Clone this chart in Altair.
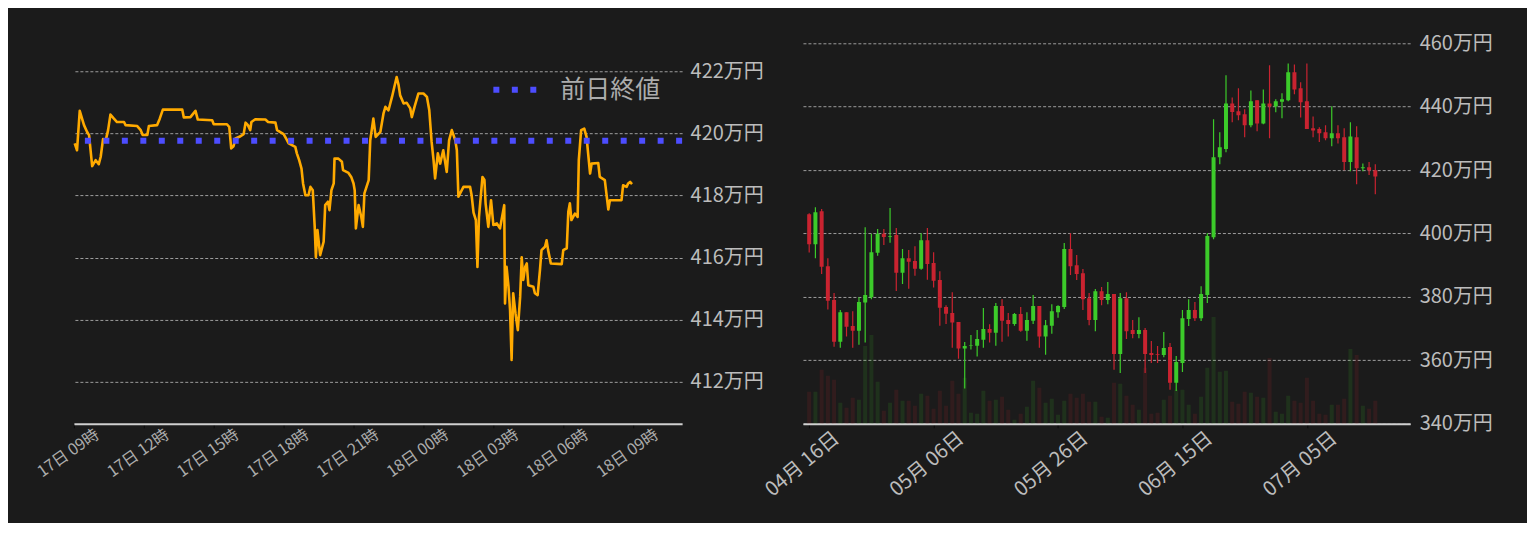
import json
import altair as alt
import pandas as pd

FONT = "Noto Sans CJK JP"
BG = "#1b1b1b"

# ---------------- Left panel: intraday price (minutes after 17日 09:00, 万円) ----------------
intraday_min = [2, 8, 15, 26, 34, 39, 47, 56, 64, 69, 75, 82, 88, 94, 103, 111, 129, 133, 163, 172,
                177, 189, 193, 214, 221, 229, 279, 283, 300, 313, 319, 356, 360, 394, 400, 405, 411, 416,
                429, 437, 442, 448, 454, 457, 467, 493, 500, 519, 523, 540, 549, 553, 570, 574, 580, 586,
                590, 596, 604, 609, 615, 620, 623, 627, 634, 643, 647, 654, 658, 663, 669, 671, 681, 690,
                693, 707, 714, 720, 723, 726, 733, 740, 744, 748, 759, 763, 771, 777, 789, 797, 802, 810,
                819, 825, 831, 836, 840, 849, 857, 866, 870, 877, 887, 900, 909, 915, 921, 926, 930, 937,
                943, 951, 960, 966, 973, 982, 986, 990, 1003, 1020, 1024, 1029, 1035, 1039, 1043, 1052,
                1057, 1060, 1067, 1074, 1080, 1089, 1097, 1101, 1108, 1110, 1114, 1119, 1123, 1127, 1131,
                1137, 1143, 1149, 1153, 1157, 1162, 1166, 1170, 1183, 1187, 1194, 1200, 1204, 1213, 1217,
                1221, 1228, 1256, 1260, 1269, 1273, 1277, 1281, 1290, 1297, 1300, 1306, 1314, 1320, 1324,
                1329, 1333, 1350, 1354, 1367, 1371, 1376, 1380, 1410, 1414, 1423, 1427, 1432, 1437]
intraday_price = [419.68, 419.46, 420.73, 420.27, 420.05, 419.95, 418.95, 419.14, 419.01, 419.25, 419.82,
                  419.78, 420.11, 420.61, 420.48, 420.37, 420.37, 420.27, 420.24, 420.11, 419.95, 419.95,
                  420.24, 420.27, 420.48, 420.77, 420.77, 420.52, 420.53, 420.73, 420.45, 420.43, 420.30,
                  420.30, 420.21, 419.52, 419.59, 419.84, 419.91, 419.98, 420.35, 420.27, 420.11, 420.37,
                  420.46, 420.45, 420.37, 420.35, 420.11, 419.98, 419.78, 419.68, 419.57, 419.36, 419.14,
                  418.87, 418.39, 418.01, 418.01, 418.28, 418.17, 416.99, 416.01, 416.89, 416.08, 416.51,
                  417.69, 417.80, 417.53, 418.17, 418.39, 419.19, 419.19, 419.09, 418.82, 418.73, 418.60,
                  418.39, 418.17, 416.94, 417.69, 417.31, 416.99, 418.07, 418.50, 419.78, 420.48, 419.89,
                  420.05, 420.64, 420.86, 420.75, 421.18, 421.50, 421.82, 421.56, 421.23, 420.97, 420.99,
                  420.81, 420.53, 420.86, 421.29, 421.29, 421.18, 420.75, 419.73, 419.14, 418.55, 419.36,
                  419.03, 419.46, 418.76, 419.78, 420.11, 419.78, 419.46, 417.96, 418.28, 418.28, 418.01,
                  417.45, 417.21, 415.70, 417.31, 418.60, 418.50, 417.75, 416.99, 417.85, 417.05, 417.10,
                  416.94, 417.21, 417.69, 414.52, 415.70, 415.06, 414.31, 412.70, 414.85, 414.20, 413.66,
                  414.74, 416.01, 415.28, 415.70, 415.81, 415.11, 415.06, 414.85, 414.79, 415.60, 416.24,
                  416.35, 416.56, 416.24, 415.81, 415.79, 416.24, 416.30, 417.48, 417.75, 417.21, 417.42,
                  417.31, 419.14, 420.11, 420.16, 419.89, 419.36, 418.71, 419.03, 419.05, 418.60, 418.50,
                  418.07, 417.55, 417.85, 417.85, 418.33, 418.28, 418.39, 418.44, 418.37]
prev_close = 419.77
intraday_tick_min = [0, 180, 360, 540, 720, 900, 1080, 1260, 1440]
intraday_tick_labels = ["17日 09時", "17日 12時", "17日 15時", "17日 18時", "17日 21時",
                        "18日 00時", "18日 03時", "18日 06時", "18日 09時"]
intraday_price_ticks = [412, 414, 416, 418, 420, 422]
legend_label = "前日終値"

# ---------------- Right panel: daily candles (day index from 04月16日, 万円) ----------------
candle_open = [406.1, 396.6, 407.0, 389.7, 379.0, 365.9, 375.2, 370.8, 369.3, 378.2, 379.9, 393.9, 399.9,
               398.9, 399.5, 387.6, 392.2, 391.3, 388.9, 397.9, 390.7, 385.3, 376.8, 374.9, 372.1, 363.7,
               364.6, 364.6, 366.5, 369.9, 368.7, 377.1, 372.7, 371.5, 374.6, 369.3, 372.5, 377.1, 367.5,
               370.9, 375.2, 376.8, 395.1, 390.0, 387.5, 379.6, 372.7, 381.8, 379.0, 380.9, 362.0, 379.6,
               369.6, 368.3, 369.6, 362.3, 362.0, 361.7, 364.2, 352.9, 359.2, 373.0, 375.9, 373.3, 380.6,
               398.8, 424.0, 426.6, 441.0, 438.5, 437.6, 434.1, 442.0, 434.7, 441.0, 440.0, 441.5, 442.0,
               450.8, 445.8, 441.7, 433.2, 432.9, 431.9, 430.0, 431.6, 430.3, 422.5, 430.3, 420.6, 420.9,
               419.9]
candle_high = [406.4, 408.3, 407.7, 392.2, 381.2, 375.9, 375.2, 375.5, 379.9, 402.0, 399.9, 401.4, 401.4,
               408.0, 401.7, 395.1, 394.8, 396.0, 400.1, 401.7, 394.1, 388.1, 377.4, 381.5, 372.1, 365.8,
               368.0, 369.6, 376.5, 371.4, 378.1, 379.3, 374.9, 374.9, 376.8, 375.2, 380.6, 377.1, 372.7,
               377.7, 377.4, 397.0, 400.1, 393.2, 388.8, 381.2, 382.5, 383.1, 384.7, 380.9, 381.2, 381.5,
               372.7, 373.6, 370.2, 366.1, 364.5, 368.9, 365.5, 361.4, 375.9, 379.3, 378.4, 383.4, 400.1,
               436.0, 431.9, 449.9, 442.9, 445.8, 439.2, 445.1, 442.0, 445.4, 453.0, 442.3, 444.2, 453.6,
               453.3, 447.7, 453.6, 436.9, 433.5, 434.1, 440.1, 434.1, 433.2, 435.1, 433.8, 422.1, 422.5,
               421.8]
candle_low = [394.0, 392.2, 387.2, 376.0, 364.3, 364.0, 367.5, 364.0, 364.9, 365.6, 379.3, 393.0, 396.4,
              397.1, 381.9, 384.1, 382.6, 386.7, 388.6, 385.4, 383.0, 370.9, 371.5, 364.0, 360.5, 351.1,
              363.4, 361.2, 364.0, 365.6, 364.6, 365.9, 367.5, 370.9, 369.0, 366.2, 371.5, 364.0, 361.8,
              368.4, 373.4, 376.2, 386.9, 385.3, 375.9, 371.1, 369.2, 377.4, 377.7, 357.0, 356.0, 366.7,
              367.0, 367.0, 356.0, 359.2, 359.2, 361.0, 350.7, 350.3, 356.3, 370.8, 372.4, 372.4, 378.1,
              398.2, 421.8, 425.6, 435.1, 435.7, 430.3, 433.5, 432.2, 434.4, 430.0, 438.2, 436.3, 441.7,
              443.9, 436.6, 432.9, 430.3, 428.8, 429.4, 427.5, 428.4, 419.9, 419.6, 415.5, 419.6, 418.4,
              412.4]
candle_close = [396.6, 406.7, 389.5, 378.8, 365.9, 375.2, 370.6, 369.3, 378.4, 380.6, 394.1, 399.9, 398.9,
                399.1, 387.6, 392.2, 391.1, 388.9, 397.9, 390.4, 385.1, 376.6, 374.7, 371.9, 363.7, 364.5,
                364.8, 366.7, 369.9, 368.7, 377.1, 372.5, 371.5, 374.6, 369.3, 372.7, 377.1, 367.5, 371.1,
                375.5, 377.1, 395.1, 389.7, 387.2, 379.3, 372.7, 381.8, 379.0, 380.9, 362.0, 379.6, 369.2,
                368.3, 369.6, 362.0, 361.7, 361.8, 363.9, 352.9, 359.5, 373.3, 375.9, 373.3, 380.9, 399.2,
                424.0, 427.2, 441.0, 438.3, 437.3, 434.1, 441.7, 434.7, 441.0, 440.0, 441.7, 442.3, 450.8,
                445.4, 441.4, 432.9, 432.5, 431.6, 430.0, 431.6, 430.0, 422.5, 430.6, 420.6, 420.9, 419.9,
                418.0]
candle_volume = [32, 32, 54, 48, 44, 21, 16, 26, 24, 78, 89, 42, 13, 21, 34, 23, 23, 18, 30, 28, 15, 33, 18,
                 43, 30, 46, 11, 10, 33, 23, 24, 27, 14, 4, 10, 17, 43, 36, 21, 25, 9, 23, 30, 26, 30, 22,
                 22, 7, 6, 41, 40, 28, 19, 14, 56, 10, 11, 24, 28, 34, 34, 19, 10, 27, 56, 107, 52, 53, 22,
                 20, 32, 31, 27, 26, 66, 12, 10, 28, 23, 21, 46, 23, 10, 9, 19, 19, 25, 75, 69, 18, 15, 23]
daily_tick_days = [0, 20, 40, 60, 80]
daily_tick_labels = ["04月 16日", "05月 06日", "05月 26日", "06月 15日", "07月 05日"]
daily_price_ticks = [340, 360, 380, 400, 420, 440, 460]

GREEN = "#3ccb2a"
RED = "#c92330"
GRID = dict(grid=True, gridColor="#b5b5b5", gridDash=[3, 2], gridWidth=1, gridOpacity=0.85)

# ---- left chart ----
df_line = pd.DataFrame({"t": intraday_min, "price": intraday_price})
x_left = alt.X(
    "t:Q",
    scale=alt.Scale(domain=[0, 1566], nice=False, zero=False),
    axis=alt.Axis(values=intraday_tick_min,
                  labelExpr=json.dumps(intraday_tick_labels, ensure_ascii=False) + "[round(datum.value/180)]",
                  labelAngle=-35, labelAlign="center", labelBaseline="middle", labelPadding=25,
                  labelOffset=-6,
                  labelFontSize=16, labelColor="#acacac", labelFont=FONT, labelFlush=False,
                  labelOverlap=False, domainColor="#d0d0d0", domainWidth=2, tickColor="#0a0a0a",
                  tickSize=4, grid=False, title=None),
)
y_left = alt.Y("price:Q", scale=alt.Scale(domain=[410.64, 423.65], nice=False, zero=False),
               axis=alt.Axis(values=intraday_price_ticks, orient="right",
                             labelExpr="datum.value + '万円'", domain=False, ticks=False,
                             labelPadding=8, labelFontSize=20, labelColor="#bcbcbc", labelFont=FONT,
                             title=None, **GRID))

line = alt.Chart(df_line).mark_line(color="#ffaa00", strokeWidth=2.6, strokeJoin="round").encode(
    x=x_left, y=y_left)

df_prev = pd.DataFrame({"price": [prev_close], "name": [legend_label]})
prev = alt.Chart(df_prev).mark_rule(strokeDash=[6, 12.5], strokeWidth=6, strokeCap="butt").encode(
    y=alt.Y("price:Q"),
    color=alt.Color("name:N", scale=alt.Scale(range=["#4d4dff"]),
                    legend=alt.Legend(orient="none", legendX=417, legendY=44, title=None,
                                      symbolType="stroke", symbolSize=2025, symbolStrokeWidth=6,
                                      symbolDash=[6, 12.5], symbolOpacity=1, labelFontSize=25,
                                      labelColor="#acacac", labelFont=FONT, labelOffset=19,
                                      padding=0)),
)

left = alt.layer(line, prev).properties(width=609, height=404)

# ---- right chart ----
df_c = pd.DataFrame({"day": list(range(len(candle_open))), "open": candle_open, "high": candle_high,
                     "low": candle_low, "close": candle_close, "volume": candle_volume})
up = "datum.close >= datum.open"
x_right = alt.X(
    "day:Q",
    scale=alt.Scale(domain=[-0.2, 95.8], nice=False, zero=False),
    axis=alt.Axis(values=daily_tick_days,
                  labelExpr=json.dumps(daily_tick_labels, ensure_ascii=False) + "[round(datum.value/20)]",
                  labelAngle=-40, labelAlign="center", labelBaseline="middle", labelPadding=36,
                  labelOffset=-7,
                  labelFontSize=20, labelColor="#bcbcbc", labelFont=FONT, labelFlush=False,
                  labelOverlap=False, domainColor="#d0d0d0", domainWidth=2, tickColor="#0a0a0a",
                  tickSize=4, grid=False, title=None),
)

vol = alt.Chart(df_c).mark_bar(size=4, orient="vertical", clip=True).encode(
    x=x_right,
    y=alt.Y("volume:Q", scale=alt.Scale(domain=[0, 404], nice=False), axis=None),
    color=alt.condition(up, alt.value(GREEN), alt.value(RED)),
    opacity=alt.value(0.13),
)

y_price = alt.Y("low:Q", scale=alt.Scale(domain=[340, 467.2], nice=False, zero=False),
                axis=alt.Axis(values=daily_price_ticks, orient="right",
                              labelExpr="datum.value + '万円'", domain=False, ticks=False,
                              labelPadding=9, labelFontSize=20, labelColor="#bcbcbc", labelFont=FONT,
                              title=None, **GRID))
wick = alt.Chart(df_c).mark_rule(strokeWidth=1.2, clip=True).encode(
    x=x_right, y=y_price, y2="high:Q",
    color=alt.condition(up, alt.value(GREEN), alt.value(RED)),
)
body = alt.Chart(df_c).mark_bar(size=4, orient="vertical", clip=True).encode(
    x=x_right, y=alt.Y("open:Q"), y2="close:Q",
    color=alt.condition(up, alt.value(GREEN), alt.value(RED)),
)
price_layer = alt.layer(wick, body)
right = alt.layer(vol, price_layer).resolve_scale(y="independent").properties(width=608, height=404)

chart = alt.hconcat(left, right, spacing=121, bounds="flush").properties(
    padding={"left": 26, "top": 12, "right": 34, "bottom": 22},
    background=BG,
).configure(font=FONT).configure_view(stroke=None, strokeWidth=0)

chart.save("out.html", embed_options={"renderer": "svg", "actions": False})
